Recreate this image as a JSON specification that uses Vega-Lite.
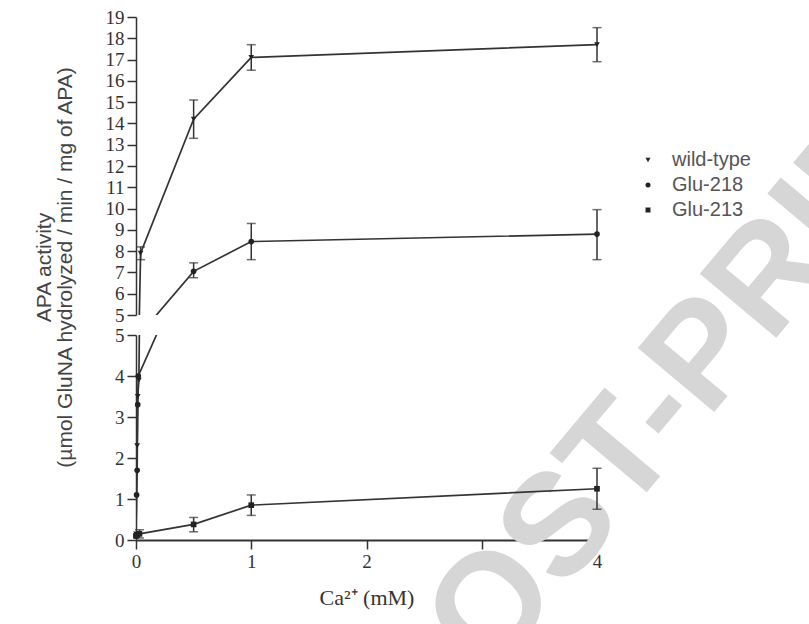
{
  "$schema": "https://vega.github.io/schema/vega-lite/v6.json",
  "padding": {"left": 33, "top": 8, "right": 5, "bottom": 5},
  "background": "white",
  "bounds": "flush",
  "config": {
    "view": {"stroke": null},
    "axis": {
      "grid": false,
      "domainColor": "#333",
      "tickColor": "#333",
      "domainWidth": 1.5,
      "tickWidth": 1.5,
      "tickSize": 9,
      "labelFont": "Liberation Serif",
      "labelFontSize": 19,
      "labelColor": "#333",
      "labelPadding": 3,
      "labelOverlap": false,
      "labelFlush": false
    },
    "concat": {"spacing": 20},
    "legend": {
      "labelFont": "Liberation Sans",
      "labelFontSize": 20,
      "labelColor": "#555",
      "labelOffset": 14,
      "symbolSize": 25,
      "symbolFillColor": "#333",
      "symbolStrokeColor": "#333",
      "rowPadding": 5
    }
  },
  "datasets": {
    "d": [
      {"series": "wild-type", "x": 0, "y": 0.15, "lo": null, "hi": null},
      {"series": "wild-type", "x": 0.01, "y": 2.3, "lo": null, "hi": null},
      {"series": "wild-type", "x": 0.015, "y": 3.5, "lo": null, "hi": null},
      {"series": "wild-type", "x": 0.025, "y": 3.9, "lo": null, "hi": null},
      {"series": "wild-type", "x": 0.04, "y": 7.9, "lo": 7.6, "hi": 8.2},
      {"series": "wild-type", "x": 0.5, "y": 14.2, "lo": 13.3, "hi": 15.1},
      {"series": "wild-type", "x": 1, "y": 17.1, "lo": 16.5, "hi": 17.7},
      {"series": "wild-type", "x": 4, "y": 17.7, "lo": 16.9, "hi": 18.5},
      {"series": "Glu-218", "x": 0, "y": 0.1, "lo": null, "hi": null},
      {"series": "Glu-218", "x": 0.005, "y": 1.1, "lo": null, "hi": null},
      {"series": "Glu-218", "x": 0.01, "y": 1.7, "lo": null, "hi": null},
      {"series": "Glu-218", "x": 0.015, "y": 3.3, "lo": null, "hi": null},
      {"series": "Glu-218", "x": 0.02, "y": 4.0, "lo": null, "hi": null},
      {"series": "Glu-218", "x": 0.5, "y": 7.05, "lo": 6.75, "hi": 7.45},
      {"series": "Glu-218", "x": 1, "y": 8.45, "lo": 7.6, "hi": 9.3},
      {"series": "Glu-218", "x": 4, "y": 8.8, "lo": 7.6, "hi": 9.95},
      {"series": "Glu-213", "x": 0, "y": 0.1, "lo": null, "hi": null},
      {"series": "Glu-213", "x": 0.03, "y": 0.15, "lo": 0.05, "hi": 0.25},
      {"series": "Glu-213", "x": 0.5, "y": 0.38, "lo": 0.2, "hi": 0.55},
      {"series": "Glu-213", "x": 1, "y": 0.85, "lo": 0.6, "hi": 1.1},
      {"series": "Glu-213", "x": 4, "y": 1.25, "lo": 0.75, "hi": 1.75}
    ],
    "wm": [{"label": "POST-PRINT"}]
  },
  "resolve": {"scale": {"y": "independent", "x": "shared"}, "axis": {"x": "independent", "y": "independent"}},
  "vconcat": [
    {
      "width": 461,
      "height": 298,
      "data": {"name": "d"},
      "layer": [
        {
          "mark": {"type": "line", "clip": true, "color": "#333", "strokeWidth": 1.7},
          "encoding": {
            "x": {"field": "x", "type": "quantitative", "scale": {"domain": [0, 4], "nice": false}, "axis": null},
            "y": {"field": "y", "type": "quantitative", "scale": {"domain": [5, 19], "nice": false, "zero": false},
              "title": ["APA activity", "(µmol GluNA hydrolyzed / min / mg of APA)"],
              "axis": {
                "values": [5, 6, 7, 8, 9, 10, 11, 12, 13, 14, 15, 16, 17, 18, 19],
                "format": "d",
                "titleFont": "Liberation Sans",
                "titleFontSize": 21,
                "titleFontWeight": "normal",
                "titleColor": "#444",
                "titleLineHeight": 21,
                "titlePadding": 30,
                "titleY": 250
              }},
            "detail": {"field": "series"}
          }
        },
        {
          "transform": [{"filter": "datum.lo != null && datum.y > 5"}],
          "mark": {"type": "errorbar", "ticks": {"size": 9}, "color": "#333", "thickness": 1.5},
          "encoding": {
            "x": {"field": "x", "type": "quantitative"},
            "y": {"field": "lo", "type": "quantitative",
              "title": ["APA activity", "(µmol GluNA hydrolyzed / min / mg of APA)"],
              "axis": {
                "values": [5, 6, 7, 8, 9, 10, 11, 12, 13, 14, 15, 16, 17, 18, 19],
                "format": "d",
                "titleFont": "Liberation Sans",
                "titleFontSize": 21,
                "titleFontWeight": "normal",
                "titleColor": "#444",
                "titleLineHeight": 21,
                "titlePadding": 30,
                "titleY": 250
              }},
            "y2": {"field": "hi"}
          }
        },
        {
          "transform": [{"filter": "datum.y > 5"}],
          "mark": {"type": "point", "filled": true, "color": "#222", "size": 32, "opacity": 1},
          "encoding": {
            "x": {"field": "x", "type": "quantitative"},
            "y": {"field": "y", "type": "quantitative",
              "title": ["APA activity", "(µmol GluNA hydrolyzed / min / mg of APA)"],
              "axis": {
                "values": [5, 6, 7, 8, 9, 10, 11, 12, 13, 14, 15, 16, 17, 18, 19],
                "format": "d",
                "titleFont": "Liberation Sans",
                "titleFontSize": 21,
                "titleFontWeight": "normal",
                "titleColor": "#444",
                "titleLineHeight": 21,
                "titlePadding": 30,
                "titleY": 250
              }},
            "shape": {"field": "series", "type": "nominal",
              "scale": {"domain": ["wild-type", "Glu-218", "Glu-213"], "range": ["triangle-down", "circle", "square"]},
              "legend": {"title": null, "orient": "none", "legendX": 502, "legendY": 133}}
          }
        }
      ]
    },
    {
      "width": 461,
      "height": 205,
      "layer": [
        {
          "data": {"name": "wm"},
          "mark": {"type": "text", "font": "Liberation Sans", "fontWeight": "bold", "fontSize": 145, "angle": -50, "align": "center", "baseline": "middle", "color": "#d6d6d6"},
          "encoding": {
            "x": {"datum": 4.67, "type": "quantitative"},
            "y": {"datum": 3.63, "type": "quantitative"},
            "text": {"field": "label"}
          }
        },
        {
          "data": {"name": "d"},
          "mark": {"type": "line", "clip": true, "color": "#333", "strokeWidth": 1.7},
          "encoding": {
            "x": {"field": "x", "type": "quantitative", "scale": {"domain": [0, 4], "nice": false},
              "title": "Ca²⁺ (mM)",
              "axis": {"values": [0, 1, 2, 3, 4], "format": "d", "titleFont": "Liberation Serif", "titleFontSize": 22, "titleFontWeight": "normal", "titleColor": "#333", "titlePadding": 16, "domainWidth": 2}},
            "y": {"field": "y", "type": "quantitative", "scale": {"domain": [0, 5], "nice": false},
              "title": null,
              "axis": {"values": [0, 1, 2, 3, 4, 5], "format": "d"}},
            "detail": {"field": "series"}
          }
        },
        {
          "data": {"name": "d"},
          "transform": [{"filter": "datum.lo != null && datum.y <= 5"}],
          "mark": {"type": "errorbar", "ticks": {"size": 9}, "color": "#333", "thickness": 1.5},
          "encoding": {
            "x": {"field": "x", "type": "quantitative", "title": "Ca²⁺ (mM)",
              "axis": {"values": [0, 1, 2, 3, 4], "format": "d", "titleFont": "Liberation Serif", "titleFontSize": 22, "titleFontWeight": "normal", "titleColor": "#333", "titlePadding": 16, "domainWidth": 2}},
            "y": {"field": "lo", "type": "quantitative", "title": null,
              "axis": {"values": [0, 1, 2, 3, 4, 5], "format": "d"}},
            "y2": {"field": "hi"}
          }
        },
        {
          "data": {"name": "d"},
          "transform": [{"filter": "datum.y <= 5"}],
          "mark": {"type": "point", "filled": true, "color": "#222", "size": 32, "opacity": 1},
          "encoding": {
            "x": {"field": "x", "type": "quantitative", "title": "Ca²⁺ (mM)",
              "axis": {"values": [0, 1, 2, 3, 4], "format": "d", "titleFont": "Liberation Serif", "titleFontSize": 22, "titleFontWeight": "normal", "titleColor": "#333", "titlePadding": 16, "domainWidth": 2}},
            "y": {"field": "y", "type": "quantitative", "title": null,
              "axis": {"values": [0, 1, 2, 3, 4, 5], "format": "d"}},
            "shape": {"field": "series", "type": "nominal",
              "scale": {"domain": ["wild-type", "Glu-218", "Glu-213"], "range": ["triangle-down", "circle", "square"]}}
          }
        }
      ]
    }
  ]
}
